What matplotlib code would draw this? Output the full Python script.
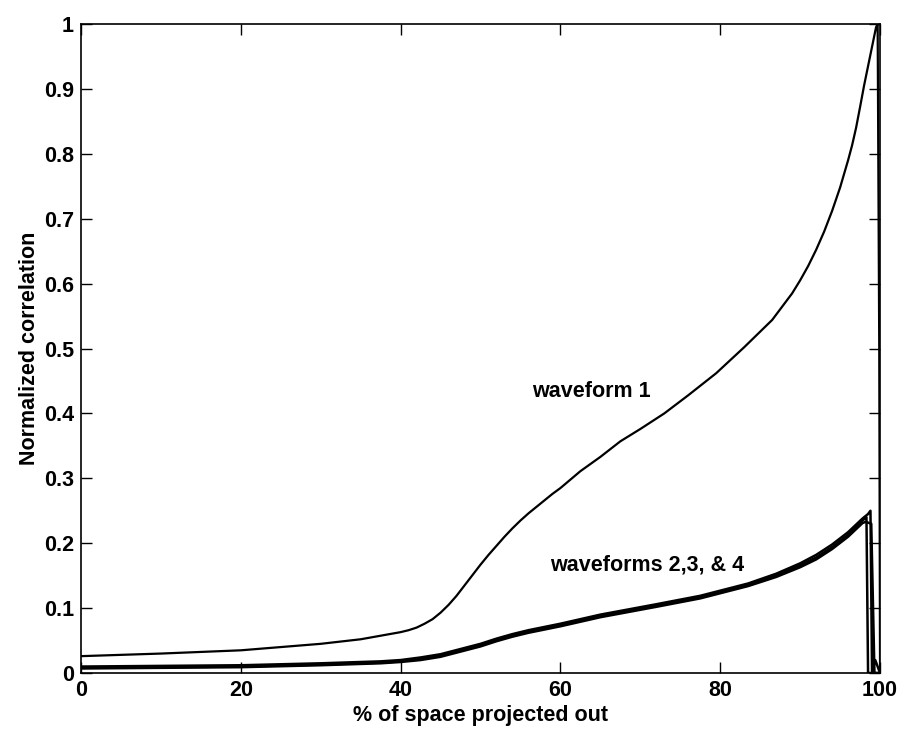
import matplotlib
matplotlib.use('Agg')
from matplotlib import pyplot as plt

plt.rcParams['font.family'] = ['Liberation Sans', 'DejaVu Sans']
plt.rcParams['font.weight'] = 'bold'

# waveform 1
wf1_x = [0, 10, 20, 30, 35, 40, 41, 42, 43, 44, 45, 46, 47, 48, 49, 50, 51, 52, 53,
         54, 55, 56, 57, 58, 59, 60, 62.5, 65, 67.5, 70, 73, 76, 79.5, 83, 86.5, 89,
         90, 91, 92, 93, 94, 95, 96, 96.5, 97, 97.5, 98, 98.5, 99, 99.5, 99.7, 99.9, 100]
wf1_y = [0.026, 0.030, 0.035, 0.045, 0.052, 0.063, 0.066, 0.070, 0.076, 0.083, 0.093,
         0.105, 0.119, 0.135, 0.151, 0.167, 0.182, 0.196, 0.210, 0.223, 0.235, 0.246,
         0.256, 0.266, 0.276, 0.285, 0.311, 0.333, 0.357, 0.376, 0.400, 0.428, 0.462,
         0.502, 0.544, 0.585, 0.605, 0.627, 0.652, 0.680, 0.712, 0.748, 0.790, 0.813,
         0.840, 0.872, 0.905, 0.935, 0.965, 0.995, 1.000, 0.500, 0.0]

# waveforms 2, 3, 4
wf2_x = [0, 10, 20, 30, 37.5, 40, 42.5, 45, 47.5, 50, 52, 54, 56, 58, 60, 65, 68.5,
         72, 77.5, 83.5, 87, 90, 92, 94, 96, 97.8, 98.3, 98.5, 100]
wf2_y = [0.008, 0.009, 0.010, 0.013, 0.016, 0.018, 0.022, 0.027, 0.035, 0.043, 0.051,
         0.058, 0.064, 0.069, 0.074, 0.088, 0.096, 0.104, 0.117, 0.136, 0.150, 0.166,
         0.178, 0.194, 0.213, 0.235, 0.240, 0.0, 0.0]

wf3_x = [0, 10, 20, 30, 37.5, 40, 42.5, 45, 47.5, 50, 52, 54, 56, 58, 60, 65, 68.5,
         72, 77.5, 83.5, 87, 90, 92, 94, 96, 97.8, 98.5, 98.8, 99.0, 99.4, 100]
wf3_y = [0.010, 0.011, 0.012, 0.015, 0.018, 0.020, 0.024, 0.029, 0.037, 0.045, 0.053,
         0.060, 0.066, 0.071, 0.076, 0.090, 0.098, 0.106, 0.119, 0.138, 0.153, 0.169,
         0.182, 0.198, 0.217, 0.238, 0.245, 0.250, 0.0, 0.02, 0.0]

wf4_x = [0, 10, 20, 30, 37.5, 40, 42.5, 45, 47.5, 50, 52, 54, 56, 58, 60, 65, 68.5,
         72, 77.5, 83.5, 87, 90, 92, 94, 96, 97.8, 98.2, 98.9, 99.3, 99.7, 100]
wf4_y = [0.007, 0.008, 0.009, 0.012, 0.015, 0.017, 0.020, 0.025, 0.033, 0.041, 0.049,
         0.056, 0.062, 0.067, 0.072, 0.086, 0.094, 0.102, 0.115, 0.134, 0.148, 0.163,
         0.175, 0.191, 0.210, 0.231, 0.233, 0.230, 0.0, 0.0, 0.0]

x_ticks = [0, 20, 40, 60, 80, 100]
y_ticks = [0, 0.1, 0.2, 0.3, 0.4, 0.5, 0.6, 0.7, 0.8, 0.9, 1]
y_tick_labels = ['0', '0.1', '0.2', '0.3', '0.4', '0.5', '0.6', '0.7', '0.8', '0.9', '1']

fig = plt.figure(figsize=(9.04, 7.4), dpi=100)
ax = fig.add_axes([0.0896, 0.0905, 0.8839, 0.8771])

ax.plot(wf1_x, wf1_y, color='black', lw=1.6)
ax.plot(wf2_x, wf2_y, color='black', lw=1.8)
ax.plot(wf3_x, wf3_y, color='black', lw=1.8)
ax.plot(wf4_x, wf4_y, color='black', lw=1.8)

ax.set_xlim(0, 100)
ax.set_ylim(0, 1)
ax.set_xticks(x_ticks)
ax.set_xticklabels([str(t) for t in x_ticks])
ax.set_yticks(y_ticks)
ax.set_yticklabels(y_tick_labels)
ax.tick_params(direction='in', length=8, width=1, top=True, right=True,
               labelsize=15.5, pad=5)
for s in ax.spines.values():
    s.set_linewidth(1.2)

ax.set_xlabel('% of space projected out', fontsize=15.5, fontweight='bold', labelpad=3)
ax.set_ylabel('Normalized correlation', fontsize=15.5, fontweight='bold', labelpad=3)

ax.text(56.5, 0.433, 'waveform 1', fontsize=15.5, fontweight='bold', va='center')
ax.text(58.7, 0.166, 'waveforms 2,3, & 4', fontsize=15.5, fontweight='bold', va='center')

fig.savefig('out.png', dpi=100)
